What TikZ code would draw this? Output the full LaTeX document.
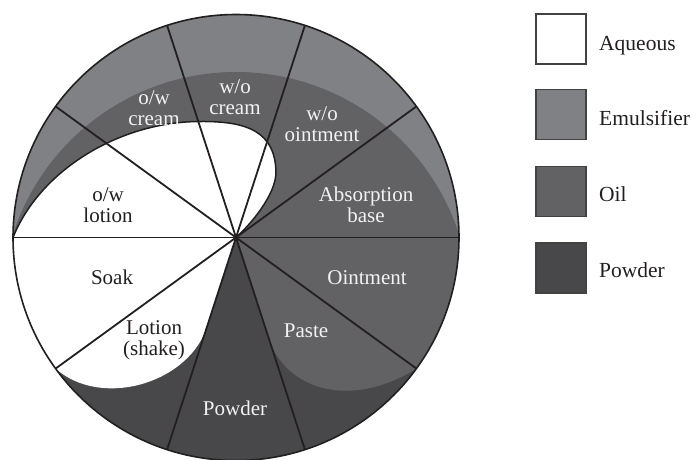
\documentclass[tikz,border=0pt]{standalone}
\usepackage{fontspec}
\setmainfont{Liberation Serif}
\usetikzlibrary{calc}
\definecolor{emul}{RGB}{128,129,133}
\definecolor{oilc}{RGB}{98,98,101}
\definecolor{powd}{RGB}{72,72,75}
\definecolor{ink}{RGB}{35,31,32}
\definecolor{ltxt}{RGB}{242,242,242}
\begin{document}
\begin{tikzpicture}[x=1pt,y=-1pt,
  lab/.style={font=\fontsize{21}{20.6}\selectfont, align=center, text=ltxt, inner sep=0pt},
  labd/.style={lab, text=ink},
  spoke/.style={draw=ink, line width=1.8pt},
  rim/.style={draw=ink, line width=1.6pt},
  legbox/.style={draw=ink!85, line width=1.3pt, minimum size=50pt, inner sep=0pt},
  legtxt/.style={font=\fontsize{21.5}{22}\selectfont, anchor=base west, text=ink, inner sep=0pt}]
\useasboundingbox (0,0) rectangle (691,459);
\coordinate (C) at (236,237.5);
\coordinate (L) at (13,237.5);
\coordinate (T1) at (200,121.5);
\coordinate (T2) at (276,172);
\coordinate (P252) at (206,329.7);
\coordinate (Q216) at (55.6,368.6);
\coordinate (P288) at (268,336.5);
\coordinate (Q324) at (416.4,368.6);
\begin{scope}
  \clip (C) circle[radius=223];
  \fill[powd] (0,0) rectangle (691,470);
  \fill[emul] (0,0) rectangle (470,237.5);
  \begin{scope}
    \clip (0,0) rectangle (470,237.5);
    \fill[oilc] (236,306.3) circle[radius=234.3];
  \end{scope}
  \fill[oilc] (C) -- (470,237.5) -- (470,380) -- (Q324)
     .. controls (350,410) and (285,390) .. (P288) -- cycle;
  \fill[white] (L) .. controls (40,170) and (120,121.5) .. (T1)
     .. controls (248,121) and (275,132) .. (T2)
     .. controls (276,195) and (250,225) .. (C) -- (P252)
     .. controls (185,385) and (100,408) .. (Q216) -- (0,380) -- (0,237.5) -- cycle;
\end{scope}
\draw[ink, line width=1.5pt] (L) .. controls (40,170) and (120,121.5) .. (T1)
     .. controls (248,121) and (275,132) .. (T2)
     .. controls (276,195) and (250,225) .. (C);
\foreach \a [count=\i from 0] in {0,36,...,324}
  \coordinate (s\i) at ($(C)+(-\a:223)$);
\foreach \i in {0,...,9}
  \draw[spoke] (C) -- (s\i);
\draw[rim] (C) circle[radius=223];
\node[lab] (owc) at (154,108) {o/w\\cream};
\node[lab] (woc) at (235,97) {w/o\\cream};
\node[lab] (woo) at (322,124) {w/o\\ointment};
\node[lab] (ab) at (366,205) {Absorption\\base};
\node[labd] (owl) at (108,205) {o/w\\lotion};
\node[labd] (soak) at (112,277) {Soak};
\node[labd] (ls) at (154,340) {Lotion\\(shake)};
\node[lab] (pow) at (235,408) {Powder};
\node[lab] (paste) at (306,331) {Paste};
\node[lab] (oint) at (367,278) {Ointment};
\node[legbox, fill=white] (b1) at (561,39) {};
\node[legbox, fill=emul] (b2) at (561,114.3) {};
\node[legbox, fill=oilc] (b3) at (561,191.3) {};
\node[legbox, fill=powd] (b4) at (561,268) {};
\node[legtxt] (t1) at (599,50) {Aqueous};
\node[legtxt] (t2) at (599,125) {Emulsifier};
\node[legtxt] (t3) at (599,201) {Oil};
\node[legtxt] (t4) at (599,277.7) {Powder};
\end{tikzpicture}
\end{document}
